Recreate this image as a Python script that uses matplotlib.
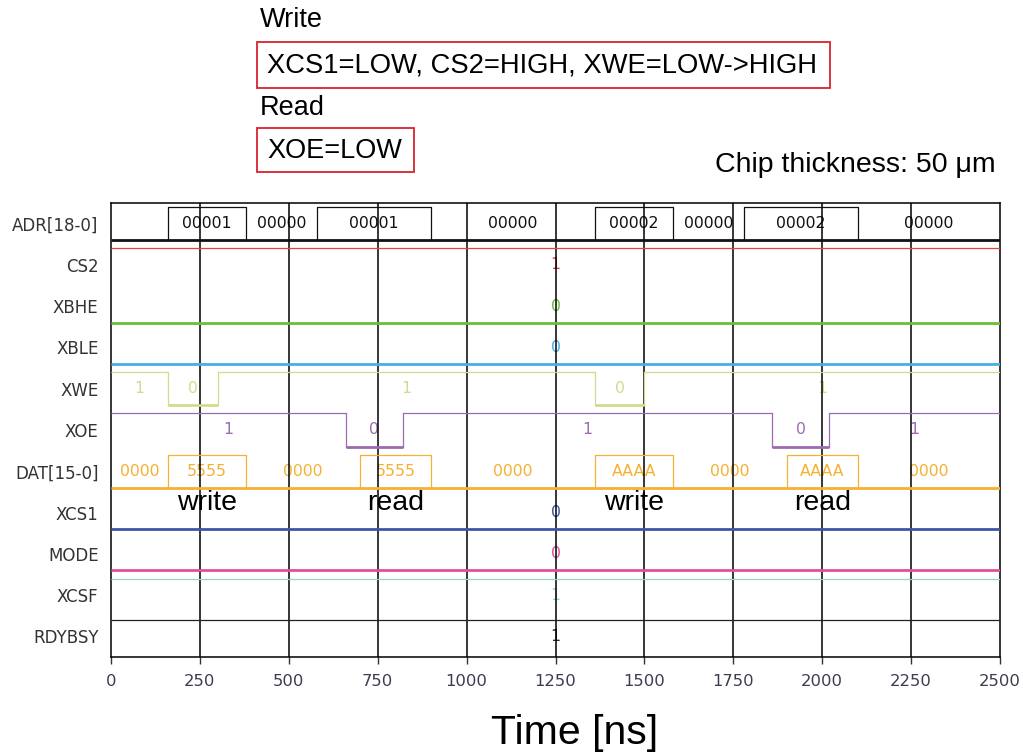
import matplotlib
matplotlib.use('Agg')
import matplotlib.pyplot as plt
from matplotlib.patches import Rectangle

# signal rows, top to bottom
signals = ['ADR[18-0]', 'CS2', 'XBHE', 'XBLE', 'XWE', 'XOE', 'DAT[15-0]', 'XCS1', 'MODE', 'XCSF', 'RDYBSY']
signal_colors = ['#111111', '#e8403c', '#6abf3a', '#4aaee6', '#cfdd8c', '#9b6bb0',
                 '#f5b133', '#3d55a5', '#e0509a', '#92d6cb', '#222222']

# bus values (edges in ns)
adr_times = [0, 160, 380, 580, 900, 1360, 1580, 1780, 2100, 2500]
adr_values = ['00000', '00001', '00000', '00001', '00000', '00002', '00000', '00002', '00000']
dat_times = [0, 160, 380, 700, 900, 1360, 1580, 1900, 2100, 2500]
dat_values = ['0000', '5555', '0000', '5555', '0000', 'AAAA', '0000', 'AAAA', '0000']

# toggling control lines
xwe_times = [0, 160, 300, 1360, 1500, 2500]
xwe_values = [1, 0, 1, 0, 1]
xoe_times = [0, 660, 820, 1860, 2020, 2500]
xoe_values = [1, 0, 1, 0, 1]

# lines that stay put
static_names = ['CS2', 'XBHE', 'XBLE', 'XCS1', 'MODE', 'XCSF', 'RDYBSY']
static_values = [1, 0, 0, 0, 0, 1, 1]

# operation labels
op_labels = ['write', 'read', 'write', 'read']
op_times = [270, 800, 1470, 2000]

t_end = 2500
n_rows = len(signals)
thin, thick = 0.9, 2.0
val_font = dict(family='DejaVu Sans', fontsize=11.3, ha='center', va='center', zorder=3)


def row_base(name):
    return n_rows - 1 - signals.index(name)


def draw_bit(ax, name, times, values):
    base = row_base(name)
    color = signal_colors[signals.index(name)]
    lo, hi = base + 0.1, base + 0.9
    for t0, t1, v in zip(times[:-1], times[1:], values):
        y = hi if v else lo
        ax.plot([t0, t1], [y, y], color=color, lw=thin if v else thick,
                solid_capstyle='butt', zorder=5)
        ax.text((t0 + t1) / 2, base + 0.5, str(v), color=color, **val_font)
    for t in times[1:-1]:
        ax.plot([t, t], [lo, hi], color=color, lw=thin, zorder=5)


def draw_bus(ax, name, times, values, skip_first=False):
    base = row_base(name)
    color = signal_colors[signals.index(name)]
    lo, hi = base + 0.1, base + 0.9
    ax.plot([times[0], times[-1]], [lo, lo], color=color, lw=thick,
            solid_capstyle='butt', zorder=5)
    for i, (t0, t1, v) in enumerate(zip(times[:-1], times[1:], values)):
        if set(v) != {'0'}:
            ax.plot([t0, t0, t1, t1], [lo, hi, hi, lo], color=color, lw=thin, zorder=5)
        if skip_first and i == 0:
            continue
        ax.text((t0 + t1) / 2, base + 0.5, v, color=color, **val_font)


fig = plt.figure(figsize=(10.23, 7.53), dpi=100)
ax = fig.add_axes([111 / 1023, 96 / 753, 889 / 1023, 454 / 753])
ax.set_xlim(0, t_end)
ax.set_ylim(0, n_rows)

draw_bus(ax, 'ADR[18-0]', adr_times, adr_values, skip_first=True)
draw_bus(ax, 'DAT[15-0]', dat_times, dat_values)
draw_bit(ax, 'XWE', xwe_times, xwe_values)
draw_bit(ax, 'XOE', xoe_times, xoe_values)
for name, v in zip(static_names, static_values):
    draw_bit(ax, name, [0, t_end], [v])
ax.texts[-1].set_color('#3b2a10')

# operation names under the data bus
dat_base = row_base('DAT[15-0]')
for lab, t in zip(op_labels, op_times):
    ax.text(t, dat_base - 0.27, lab, family='Liberation Sans', fontsize=20.5,
            ha='center', va='center', color='black', zorder=3)

# vertical grid
for t in range(250, t_end, 250):
    ax.axvline(t, color='black', lw=1.1, zorder=4)

ax.set_yticks([n_rows - 1 - i + 0.5 for i in range(n_rows)])
ax.set_yticklabels(signals, family='DejaVu Sans', fontsize=12, color='#333333')
ax.tick_params(axis='y', length=0, pad=9)
ax.set_xticks(range(0, t_end + 1, 250))
ax.tick_params(axis='x', direction='out', length=5, width=1, pad=7,
               labelsize=11.8, labelcolor='#3c3c50', color='#333333')
for s in ax.spines.values():
    s.set_linewidth(1.1)
    s.set_color('black')

fig.text(575 / 1023, 1 - 733 / 753, 'Time [ns]', family='Liberation Sans',
         fontsize=29.5, ha='center', va='center')

# header text and red boxes
red = '#d9232e'
fig.text(260 / 1023, 1 - 20 / 753, 'Write', family='Liberation Sans', fontsize=19.5, va='center')
fig.text(267 / 1023, 1 - 65 / 753, 'XCS1=LOW, CS2=HIGH, XWE=LOW->HIGH',
         family='Liberation Sans', fontsize=19.7, va='center')
fig.add_artist(Rectangle((257 / 1023, 1 - 88 / 753), 573 / 1023, 46 / 753,
                         transform=fig.transFigure, fill=False, ec=red, lw=1.3))
fig.text(260 / 1023, 1 - 108 / 753, 'Read', family='Liberation Sans', fontsize=19.5, va='center')
fig.text(267 / 1023, 1 - 151 / 753, 'XOE=LOW', family='Liberation Sans', fontsize=19.5, va='center')
fig.add_artist(Rectangle((257 / 1023, 1 - 172 / 753), 157 / 1023, 44 / 753,
                         transform=fig.transFigure, fill=False, ec=red, lw=1.3))
fig.text(996 / 1023, 1 - 165 / 753, 'Chip thickness: 50 \u03bcm', family='Liberation Sans',
         fontsize=20.5, ha='right', va='center')

fig.savefig('out.png', dpi=100)
